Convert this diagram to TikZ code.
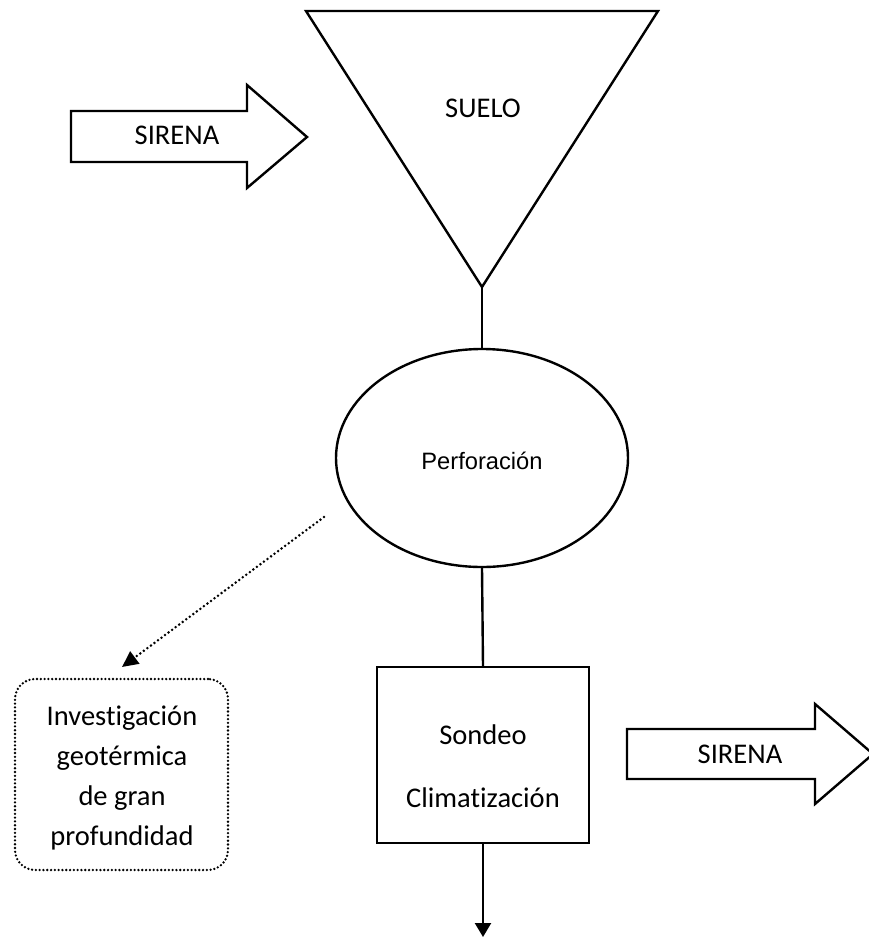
\documentclass[tikz,border=0pt]{standalone}
\usepackage{fontspec}
\setmainfont{Carlito}[Ligatures=NoCommon]
\newfontfamily\arialf{Liberation Sans}
\usetikzlibrary{shapes.geometric,arrows.meta}
\begin{document}
\begin{tikzpicture}[x=1pt,y=-1pt,line width=2.4pt,
  lbl/.style={font=\fontsize{28.5}{40}\selectfont, inner sep=0pt},
  blockarrow/.style={draw, line join=miter, fill=white},
  conn/.style={draw, line width=2.4pt},
  dotline/.style={draw, line width=2.8pt, line cap=round, dash pattern=on 0pt off 4.4pt},
  ovalbox/.style={draw, ellipse, minimum width=292pt, minimum height=218pt, inner sep=0pt},
  sqbox/.style={draw, rectangle, minimum width=212pt, minimum height=176pt, inner sep=0pt},
  dotbox/.style={draw, rectangle, rounded corners=20pt, line width=2.6pt, line cap=round,
     dash pattern=on 0pt off 3.8pt, minimum width=213pt, minimum height=191pt,
     align=center, font=\fontsize{28.5}{40}\selectfont, inner sep=0pt}]
\useasboundingbox (0,0) rectangle (869,938);

% funnel (triangle)
\coordinate (tl) at (306,11);
\coordinate (tr) at (658,11);
\coordinate (apex) at (482,287);
\draw[line join=miter] (tl) -- (tr) -- (apex) -- cycle;
\node[lbl, anchor=base] (suelo) at (483,117) {SUELO};

% left block arrow
\draw[blockarrow] (71,111) -- (247,111) -- (247,85) -- (307,137) -- (247,188) -- (247,162) -- (71,162) -- cycle;
\node[lbl, anchor=base] (sirenaL) at (177,144) {SIRENA};

% ellipse
\node[ovalbox] (perf) at (482,458) {};
\node[inner sep=0pt, anchor=base, font=\arialf\fontsize{23.7}{28}\selectfont] (perftxt) at (482,469) {Perforación};

% square box
\node[sqbox] (sondeo) at (483,755) {};
\node[lbl, anchor=base] (sondeo1) at (483,744) {Sondeo};
\node[lbl, anchor=base] (sondeo2) at (483,807) {Climatización};

% right block arrow
\draw[blockarrow] (627,729) -- (815,729) -- (815,704) -- (873,754) -- (815,804) -- (815,779) -- (627,779) -- cycle;
\node[lbl, anchor=base] (sirenaR) at (740,763) {SIRENA};

% rounded dotted box
\node[dotbox] (inv) at (121.5,774.5) {};
\node[lbl, align=center] (invtxt) at (122,778) {Investigación\\geotérmica\\de gran\\profundidad};

% connectors
\draw[conn] (apex) -- (perf.north);
\draw[conn] (perf.south) -- (sondeo.north);
\coordinate (down) at (483,937);
\draw[conn, -{Triangle[length=14pt,width=16pt]}] (sondeo.south) -- (down);
\coordinate (dotstart) at (324,517);
\coordinate (dotend) at (122,667);
\draw[dotline, -{Triangle[length=16pt,width=15pt]}] (dotstart) -- (dotend);
\end{tikzpicture}
\end{document}
